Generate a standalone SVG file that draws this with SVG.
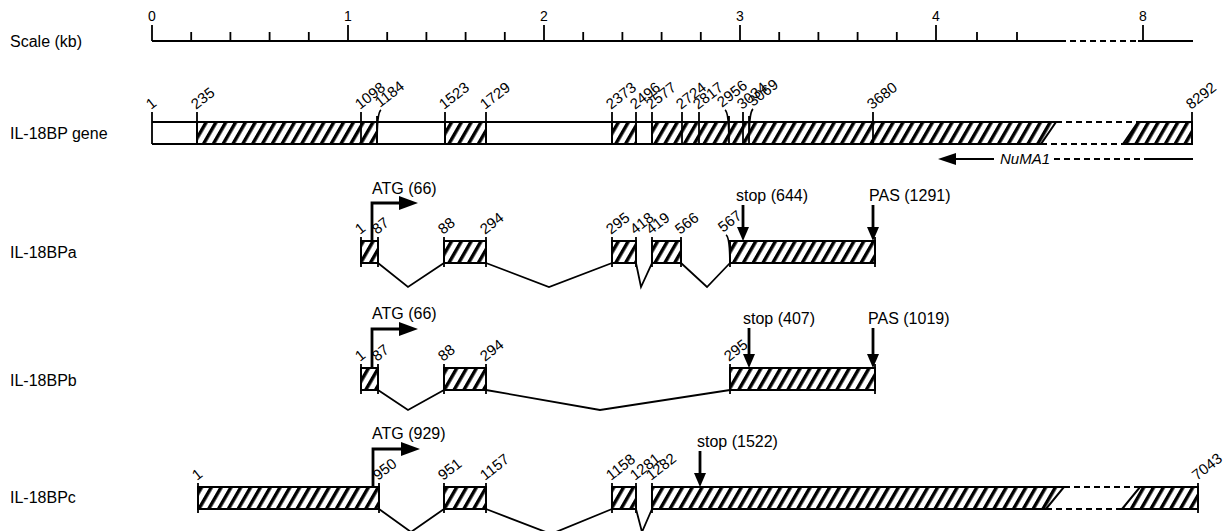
<svg xmlns="http://www.w3.org/2000/svg" width="1225" height="531" viewBox="0 0 1225 531">
<defs>
<pattern id="hatch" patternUnits="userSpaceOnUse" width="8.5" height="10" patternTransform="rotate(30)"><rect x="0" y="0" width="3.4" height="10" fill="#000"/></pattern>
<style>
text{font-family:"Liberation Sans",Arial,sans-serif;fill:#000}
.lbl{font-size:16px}
.num{font-size:15px}
.sc{font-size:14px}
.hx{fill:url(#hatch);stroke:#000;stroke-width:2}
.tk{stroke:#000;stroke-width:1.8;fill:none}
.ln{stroke:#000;stroke-width:1.8;fill:none}
.ds{stroke:#000;stroke-width:1.8;fill:none;stroke-dasharray:6 4}
.intron{stroke:#000;stroke-width:1.8;fill:none}
.arr{stroke:#000;stroke-width:2.8;fill:none}
</style>
</defs>

<g id="scale">
<text class="lbl" x="10" y="47">Scale (kb)</text>
<line class="ln" x1="152" y1="41" x2="1060" y2="41"/>
<line class="ds" x1="1060" y1="41" x2="1138" y2="41"/>
<line class="ln" x1="1138" y1="41" x2="1193" y2="41"/>
<path class="tk" d="M152,25V41 M348,25V41 M544,25V41 M740,25V41 M936,25V41 M1143,25V41"/>
<path class="tk" d="M191.2,32V41 M230.4,32V41 M269.6,32V41 M308.8,32V41 M387.2,32V41 M426.4,32V41 M465.6,32V41 M504.8,32V41 M583.2,32V41 M622.4,32V41 M661.6,32V41 M700.8,32V41 M779.2,32V41 M818.4,32V41 M857.6,32V41 M896.8,32V41 M977,32V41 M1017,32V41"/>
<g class="sc" text-anchor="middle">
<text x="152" y="21">0</text><text x="348" y="21">1</text><text x="544" y="21">2</text><text x="740" y="21">3</text><text x="936" y="21">4</text><text x="1143" y="21">8</text>
</g>
</g>

<g id="gene">
<text class="lbl" x="10" y="139">IL-18BP gene</text>
<rect x="152" y="122" width="1040" height="22" fill="#fff"/>
<line class="ln" x1="152" y1="122" x2="1056" y2="122"/>
<line class="ln" x1="152" y1="144" x2="1041" y2="144"/>
<line class="ds" x1="1056" y1="122" x2="1138" y2="122"/>
<line class="ds" x1="1041" y1="144" x2="1123" y2="144"/>
<line class="ln" x1="1138" y1="122" x2="1192" y2="122"/>
<line class="ln" x1="1123" y1="144" x2="1192" y2="144"/>
<rect class="hx" x="197" y="122" width="180" height="22"/>
<rect class="hx" x="445" y="122" width="41" height="22"/>
<rect class="hx" x="612" y="122" width="24" height="22"/>
<polygon class="hx" points="652,122 1056,122 1041,144 652,144"/>
<polygon class="hx" points="1138,122 1192,122 1192,144 1123,144"/>
<path class="tk" d="M152,112V144 M197,112V144 M361,112V144 M377,116V144 Q377,112 381,110 M445,112V144 M486,112V144 M612,112V144 M636,112V144 M652,112V144 M682,112V144 M699,112V144 M729,116V144 Q729,112 725,110 M743,112V144 M749,116V144 Q749,112 753,109 M873,112V144 M1192,112V144"/>
<g class="num">
<text transform="translate(151,110) rotate(-38)">1</text>
<text transform="translate(196,110) rotate(-38)">235</text>
<text transform="translate(360,110) rotate(-38)">1098</text>
<text transform="translate(380,108) rotate(-38)">1184</text>
<text transform="translate(444,110) rotate(-38)">1523</text>
<text transform="translate(485,110) rotate(-38)">1729</text>
<text transform="translate(611,110) rotate(-38)">2373</text>
<text transform="translate(635,110) rotate(-38)">2496</text>
<text transform="translate(651,110) rotate(-38)">2577</text>
<text transform="translate(681,110) rotate(-38)">2724</text>
<text transform="translate(698,110) rotate(-38)">2817</text>
<text transform="translate(722,108) rotate(-38)">2956</text>
<text transform="translate(742,110) rotate(-38)">3034</text>
<text transform="translate(753,107) rotate(-38)">3069</text>
<text transform="translate(872,110) rotate(-38)">3680</text>
<text transform="translate(1191,110) rotate(-38)">8292</text>
</g>
</g>

<g id="numa1">
<line class="ln" x1="950" y1="159" x2="994" y2="159"/>
<polygon points="938,159 956,153 956,165" fill="#000"/>
<text x="1000" y="164" style="font-size:15px;font-style:italic">NuMA1</text>
<line class="ds" x1="1054" y1="159" x2="1148" y2="159"/>
<line class="ln" x1="1148" y1="159" x2="1193" y2="159"/>
</g>

<g id="IL-18BPa">
<text class="lbl" x="10" y="258">IL-18BPa</text>
<rect class="hx" x="361" y="241" width="17" height="22"/>
<rect class="hx" x="444" y="241" width="42" height="22"/>
<rect class="hx" x="612" y="241" width="24" height="22"/>
<rect class="hx" x="652" y="241" width="29" height="22"/>
<rect class="hx" x="730" y="241" width="145" height="22"/>
<path class="tk" d="M361,237V267 M378,237V267 M444,237V267 M486,237V267 M612,237V267 M636,237V267 M652,237V267 M681,237V267 M730,240V267 Q730,237 726,235 M875,237V267"/>
<g class="num">
<text transform="translate(360,235) rotate(-38)">1</text>
<text transform="translate(377,235) rotate(-38)">87</text>
<text transform="translate(443,235) rotate(-38)">88</text>
<text transform="translate(485,235) rotate(-38)">294</text>
<text transform="translate(611,235) rotate(-38)">295</text>
<text transform="translate(635,235) rotate(-38)">418</text>
<text transform="translate(651,235) rotate(-38)">419</text>
<text transform="translate(680,235) rotate(-38)">566</text>
<text transform="translate(723,233) rotate(-38)">567</text>
</g>
<path class="arr" d="M372,241V203H402"/>
<polygon points="418,203 399,196 399,210" fill="#000"/>
<text class="lbl" x="372" y="194">ATG (66)</text>
<text class="lbl" x="736" y="201">stop (644)</text>
<line class="arr" x1="743" y1="205" x2="743" y2="230"/>
<polygon points="743,241 737,227 749,227" fill="#000"/>
<text class="lbl" x="869" y="201">PAS (1291)</text>
<line class="arr" x1="873" y1="205" x2="873" y2="230"/>
<polygon points="873,241 867,227 879,227" fill="#000"/>
</g>

<g id="IL-18BPb">
<text class="lbl" x="10" y="386">IL-18BPb</text>
<rect class="hx" x="361" y="368" width="17" height="22"/>
<rect class="hx" x="444" y="368" width="42" height="22"/>
<rect class="hx" x="730" y="368" width="145" height="22"/>
<path class="tk" d="M361,364V394 M378,364V394 M444,364V394 M486,364V394 M730,364V394 M875,364V394"/>
<g class="num">
<text transform="translate(360,362) rotate(-38)">1</text>
<text transform="translate(377,362) rotate(-38)">87</text>
<text transform="translate(443,362) rotate(-38)">88</text>
<text transform="translate(485,362) rotate(-38)">294</text>
<text transform="translate(729,362) rotate(-38)">295</text>
</g>
<path class="arr" d="M372,368V329H402"/>
<polygon points="418,329 399,322 399,336" fill="#000"/>
<text class="lbl" x="372" y="319">ATG (66)</text>
<text class="lbl" x="743" y="324">stop (407)</text>
<line class="arr" x1="749" y1="328" x2="749" y2="357"/>
<polygon points="749,368 743,354 755,354" fill="#000"/>
<text class="lbl" x="868" y="324">PAS (1019)</text>
<line class="arr" x1="873" y1="328" x2="873" y2="357"/>
<polygon points="873,368 867,354 879,354" fill="#000"/>
</g>

<g id="IL-18BPc">
<text class="lbl" x="10" y="503">IL-18BPc</text>
<rect class="hx" x="198" y="487" width="181" height="22"/>
<rect class="hx" x="444" y="487" width="42" height="22"/>
<rect class="hx" x="612" y="487" width="24" height="22"/>
<polygon class="hx" points="652,487 1064,487 1046,509 652,509"/>
<polygon class="hx" points="1140,487 1198,487 1198,509 1122,509"/>
<line class="ds" x1="1064" y1="487" x2="1140" y2="487"/>
<line class="ds" x1="1046" y1="509" x2="1122" y2="509"/>
<path class="tk" d="M198,483V513 M379,483V513 M444,483V513 M486,483V513 M612,483V513 M636,483V513 M652,483V513 M1198,483V513"/>
<g class="num">
<text transform="translate(197,481) rotate(-38)">1</text>
<text transform="translate(378,481) rotate(-38)">950</text>
<text transform="translate(443,481) rotate(-38)">951</text>
<text transform="translate(485,481) rotate(-38)">1157</text>
<text transform="translate(611,481) rotate(-38)">1158</text>
<text transform="translate(635,481) rotate(-38)">1281</text>
<text transform="translate(651,481) rotate(-38)">1282</text>
<text transform="translate(1197,481) rotate(-38)">7043</text>
</g>
<path class="arr" d="M373,487V449H403"/>
<polygon points="420,449 401,442 401,456" fill="#000"/>
<text class="lbl" x="372" y="439">ATG (929)</text>
<text class="lbl" x="697" y="447">stop (1522)</text>
<line class="arr" x1="700" y1="451" x2="700" y2="476"/>
<polygon points="700,487 694,473 706,473" fill="#000"/>
</g>

<g id="connectors">
<polyline class="intron" points="378,263 408,287 444,263"/>
<polyline class="intron" points="486,263 549,287 612,263"/>
<polyline class="intron" points="636,263 641,287 652,263"/>
<polyline class="intron" points="681,263 707,287 730,263"/>
<polyline class="intron" points="378,390 408,410 444,390"/>
<polyline class="intron" points="486,390 600,410 730,390"/>
<polyline class="intron" points="379,509 411,532 444,509"/>
<polyline class="intron" points="486,509 551,534 612,509"/>
<polyline class="intron" points="636,509 642,532 652,509"/>
</g>
</svg>
